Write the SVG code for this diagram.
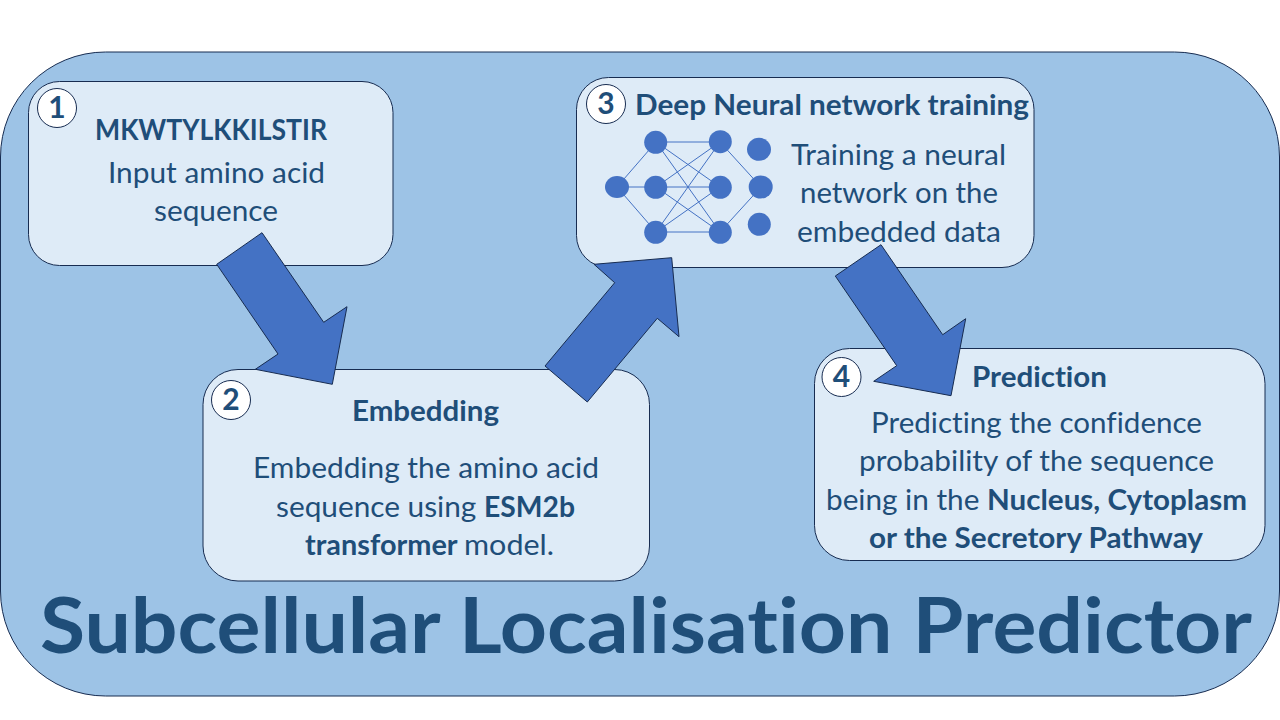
<svg xmlns="http://www.w3.org/2000/svg" width="1280" height="720" viewBox="0 0 1280 720">
<style>
text{font-family:"Lato","Carlito","Open Sans",sans-serif;fill:#1f4e79;font-size:29px;font-variant-ligatures:none}
.b{font-weight:700}
.box{fill:#deebf7;stroke:#172c51;stroke-width:1}
.num{fill:#fff;stroke:#172c51;stroke-width:1}
.d{font-weight:700;font-size:30px;text-anchor:middle}
.arrow{fill:#4472c4;stroke:#172c51;stroke-width:1}
.nn{fill:#4472c4}
.ln{stroke:#4472c4;stroke-width:1;fill:none}
</style>
<rect width="1280" height="720" fill="#fff"/>
<g id="background">
<rect x="0.5" y="52" width="1279" height="644" rx="105" class="box" style="fill:#9dc3e6"/>
<text class="b" x="40" y="653" style="font-size:76px" textLength="1212" lengthAdjust="spacingAndGlyphs">Subcellular Localisation Predictor</text>
</g>
<g id="node1">
<rect x="28.5" y="81.5" width="364.5" height="184" rx="31" class="box"/>
<circle cx="57" cy="108" r="19.5" class="num"/>
<text class="d" x="57" y="118">1</text>
<text class="b" x="95" y="140" textLength="232" lengthAdjust="spacingAndGlyphs">MKWTYLKKILSTIR</text>
<text x="108" y="183" textLength="217" lengthAdjust="spacingAndGlyphs">Input amino acid</text>
<text x="154" y="221" textLength="124" lengthAdjust="spacingAndGlyphs">sequence</text>
</g>
<g id="node2">
<rect x="203" y="369.5" width="446.5" height="211.5" rx="35" class="box"/>
<circle cx="231" cy="400" r="19.5" class="num"/>
<text class="d" x="231" y="410">2</text>
<text class="b" x="352" y="421" textLength="147" lengthAdjust="spacingAndGlyphs">Embedding</text>
<text x="253" y="478" textLength="346" lengthAdjust="spacingAndGlyphs">Embedding the amino acid</text>
<text y="517"><tspan x="276" textLength="208" lengthAdjust="spacingAndGlyphs">sequence using </tspan><tspan class="b" x="484" textLength="91" lengthAdjust="spacingAndGlyphs">ESM2b</tspan></text>
<text y="555"><tspan class="b" x="305" textLength="159" lengthAdjust="spacingAndGlyphs">transformer </tspan><tspan x="464" textLength="90" lengthAdjust="spacingAndGlyphs">model.</tspan></text>
</g>
<g id="node3">
<rect x="576.5" y="77.5" width="457.5" height="190" rx="32" class="box"/>
<circle cx="606" cy="104" r="19.5" class="num"/>
<text class="d" x="606" y="114">3</text>
<text class="b" x="635" y="115" textLength="394" lengthAdjust="spacingAndGlyphs">Deep Neural network training</text>
<g class="ln">
<path d="M617 187L656 142M617 187L656 187M617 187L656 232"/>
<path d="M656 142L720 142M656 142L720 187M656 142L720 232M656 187L720 142M656 187L720 187M656 187L720 232M656 232L720 142M656 232L720 187M656 232L720 232"/>
<path d="M720 142L761 187M720 232L761 187"/>
</g>
<g class="nn">
<ellipse cx="617" cy="187" rx="12" ry="11"/>
<circle cx="655.7" cy="142.3" r="11.5"/><circle cx="655.7" cy="187.3" r="11.5"/><circle cx="655.7" cy="232.3" r="11.5"/>
<circle cx="720.3" cy="141.7" r="11.5"/><circle cx="720.3" cy="187.3" r="11.5"/><circle cx="720.3" cy="232.3" r="11.5"/>
<ellipse cx="759" cy="149.3" rx="12" ry="11.5"/><ellipse cx="760.7" cy="187" rx="12" ry="11.5"/><circle cx="759.3" cy="224.3" r="11.5"/>
</g>
<text x="791" y="165" textLength="215" lengthAdjust="spacingAndGlyphs">Training a neural</text>
<text x="800" y="203" textLength="198" lengthAdjust="spacingAndGlyphs">network on the</text>
<text x="797" y="242" textLength="204" lengthAdjust="spacingAndGlyphs">embedded data</text>
</g>
<g id="node4">
<rect x="814.5" y="348.5" width="450.5" height="212" rx="35" class="box"/>
<circle cx="841.5" cy="377" r="19.5" class="num"/>
<text class="d" x="841.5" y="387">4</text>
<text class="b" x="972" y="387" textLength="135" lengthAdjust="spacingAndGlyphs">Prediction</text>
<text x="871" y="433" textLength="331" lengthAdjust="spacingAndGlyphs">Predicting the confidence</text>
<text x="859" y="471" textLength="355" lengthAdjust="spacingAndGlyphs">probability of the sequence</text>
<text y="510"><tspan x="826" textLength="161" lengthAdjust="spacingAndGlyphs">being in the </tspan><tspan class="b" x="987" textLength="260" lengthAdjust="spacingAndGlyphs">Nucleus, Cytoplasm</tspan></text>
<text class="b" x="869" y="548" textLength="334" lengthAdjust="spacingAndGlyphs">or the Secretory Pathway</text>
</g>
<g id="connectors">
<polygon class="arrow" points="262,232.7 216.7,264.3 278,354 255.3,369.3 332.3,384.3 347,306.7 323.7,322.3"/>
<polygon class="arrow" points="545,366 587.3,402 657.3,318.3 679,336.7 671.7,257.7 594,264.3 614.7,282.7"/>
<polygon class="arrow" points="881,244.7 835.3,276 896.7,365.7 873.7,381.3 951,395.7 965.7,318.7 942.7,334.7"/>
</g>
</svg>
